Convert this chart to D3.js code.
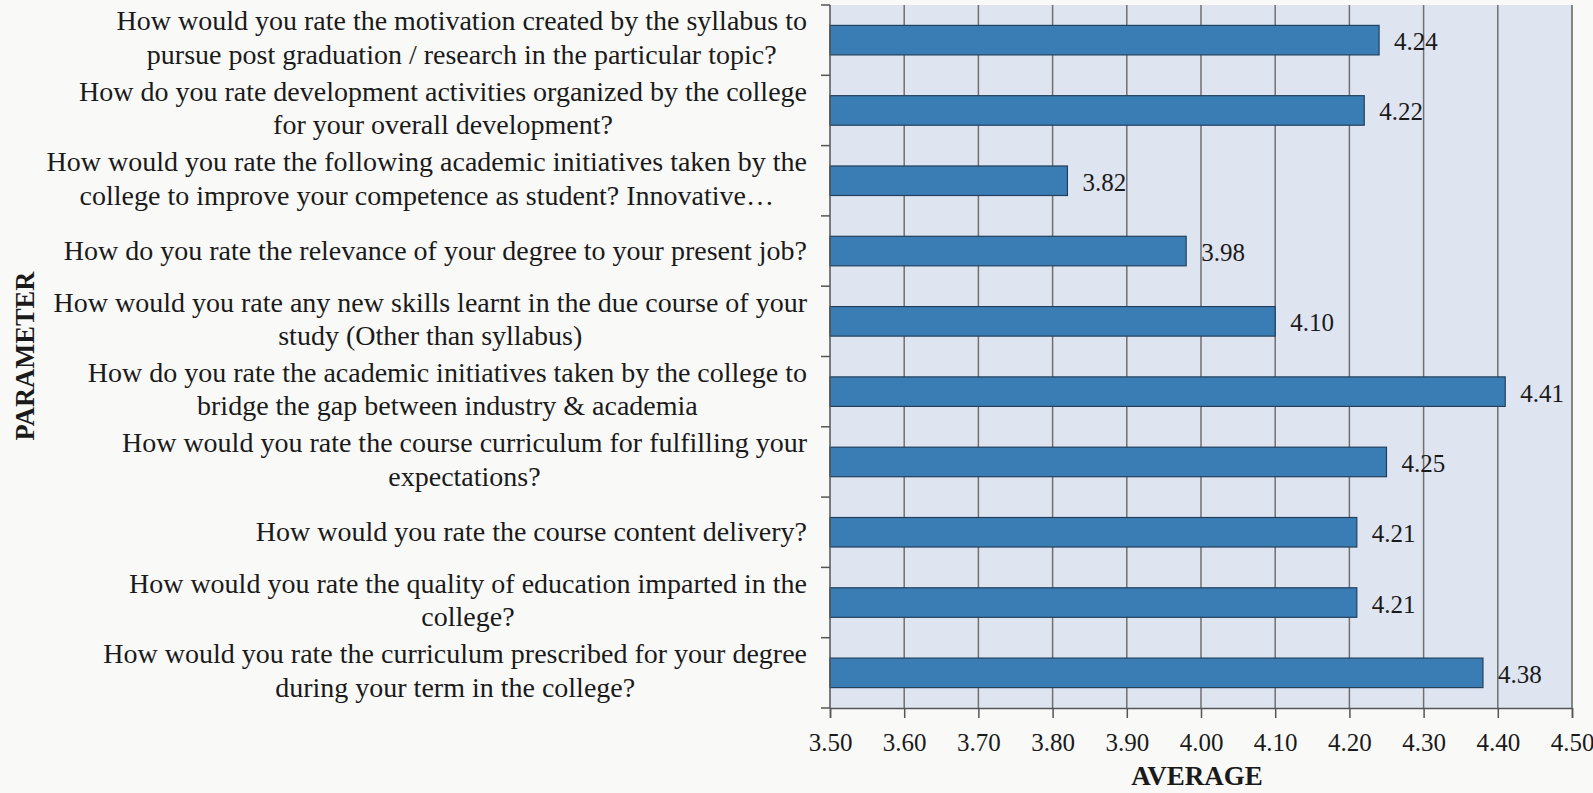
<!DOCTYPE html>
<html>
<head>
<meta charset="utf-8">
<script src="https://cdn.jsdelivr.net/npm/d3@7"></script>
<style>
  html, body { margin: 0; padding: 0; background: #f9f9f8; }
  svg { display: block; font-family: "Liberation Serif", "DejaVu Serif", serif; }
</style>
</head>
<body>
<svg id="chart" width="1593" height="793"></svg>
<script>
// questions, top to bottom ("\n" marks the line break)
const questions = [
  "How would you rate the motivation created by the syllabus to\npursue post graduation / research in the particular topic?",
  "How do you rate development activities organized by the college\nfor your overall development?",
  "How would you rate the following academic initiatives taken by the\ncollege to improve your competence as student? Innovative…",
  "How do you rate the relevance of your degree to your present job?",
  "How would you rate any new skills learnt in the due course of your\nstudy (Other than syllabus)",
  "How do you rate the academic initiatives taken by the college to\nbridge the gap between industry & academia",
  "How would you rate the course curriculum for fulfilling your\nexpectations?",
  "How would you rate the course content delivery?",
  "How would you rate the quality of education imparted in the\ncollege?",
  "How would you rate the curriculum prescribed for your degree\nduring your term in the college?"
];
const averages = [4.24, 4.22, 3.82, 3.98, 4.10, 4.41, 4.25, 4.21, 4.21, 4.38];
const xTicks = [3.5, 3.6, 3.7, 3.8, 3.9, 4.0, 4.1, 4.2, 4.3, 4.4, 4.5];

const svg = d3.select("#chart");
const plotLeft = 830, plotRight = 1572, plotTop = 5, plotBottom = 708;

const x = d3.scaleLinear().domain([3.5, 4.5]).range([plotLeft, plotRight]);
const y = d3.scaleBand().domain(d3.range(questions.length)).range([plotTop, plotBottom]).paddingInner(0.58).paddingOuter(0.29);

// plot area
svg.append("rect")
  .attr("x", plotLeft).attr("y", plotTop)
  .attr("width", plotRight - plotLeft).attr("height", plotBottom - plotTop)
  .attr("fill", "#dfe4f1");

// vertical gridlines
svg.append("g").selectAll("line")
  .data(xTicks.slice(1))
  .join("line")
  .attr("x1", d => x(d)).attr("x2", d => x(d))
  .attr("y1", plotTop).attr("y2", plotBottom)
  .attr("stroke", "#707070").attr("stroke-width", 1.5);

// bars
svg.append("g").selectAll("rect")
  .data(averages)
  .join("rect")
  .attr("x", plotLeft)
  .attr("y", (d, i) => y(i))
  .attr("width", d => x(d) - plotLeft)
  .attr("height", y.bandwidth())
  .attr("fill", "#3a7db5")
  .attr("stroke", "#22405c").attr("stroke-width", 1.2);

// value labels
svg.append("g").selectAll("text")
  .data(averages)
  .join("text")
  .attr("x", d => x(d) + 15)
  .attr("y", (d, i) => y(i) + y.bandwidth() / 2 + 10)
  .attr("font-size", 25)
  .attr("fill", "#1a1a1a")
  .text(d => d.toFixed(2));

// x axis
const xAxis = svg.append("g")
  .attr("transform", `translate(0,${plotBottom})`)
  .call(d3.axisBottom(x).tickValues(xTicks).tickFormat(d3.format(".2f")).tickSize(10).tickPadding(15));
xAxis.select(".domain").attr("stroke", "#555").attr("stroke-width", 1.5);
xAxis.selectAll(".tick line").attr("stroke", "#555").attr("stroke-width", 1.5);
xAxis.selectAll(".tick text")
  .attr("font-family", "Liberation Serif, serif")
  .attr("font-size", 25).attr("fill", "#1a1a1a");

// y axis: line with ticks at band boundaries
const step = y.step();
const bounds = d3.range(questions.length + 1).map(i => plotTop + i * step);
svg.append("line")
  .attr("x1", plotLeft).attr("x2", plotLeft).attr("y1", plotTop).attr("y2", plotBottom)
  .attr("stroke", "#555").attr("stroke-width", 1.5);
svg.append("g").selectAll("line")
  .data(bounds)
  .join("line")
  .attr("x1", plotLeft - 9).attr("x2", plotLeft)
  .attr("y1", d => d).attr("y2", d => d)
  .attr("stroke", "#555").attr("stroke-width", 1.5);

// right border
svg.append("line")
  .attr("x1", plotRight).attr("x2", plotRight).attr("y1", plotTop).attr("y2", plotBottom)
  .attr("stroke", "#808080").attr("stroke-width", 1.5);

// category labels: lines centred in a block that is right aligned
const labelRight = 807, lineH = 33.5;
const labels = svg.append("g")
  .attr("font-size", 28).attr("fill", "#1a1a1a");

questions.forEach((q, i) => {
  const lines = q.split("\n");
  const cy = y(i) + y.bandwidth() / 2 - (lines.length > 1 ? 2 : 0);
  const g = labels.append("g");
  const texts = g.selectAll("text")
    .data(lines)
    .join("text")
    .attr("text-anchor", "middle")
    .attr("y", (d, k) => cy + (k - (lines.length - 1) / 2) * lineH + 9)
    .text(d => d);
  let maxW = 0;
  texts.each(function () { maxW = Math.max(maxW, this.getComputedTextLength()); });
  texts.attr("x", labelRight - maxW / 2);
});

// axis titles
svg.append("text")
  .attr("x", (plotLeft + plotRight) / 2 - 4).attr("y", 785)
  .attr("text-anchor", "middle")
  .attr("font-size", 27).attr("font-weight", "bold").attr("fill", "#1a1a1a")
  .text("AVERAGE");

svg.append("text")
  .attr("transform", "translate(34,356) rotate(-90)")
  .attr("text-anchor", "middle")
  .attr("font-size", 26.5).attr("font-weight", "bold").attr("fill", "#1a1a1a")
  .text("PARAMETER");
</script>
</body>
</html>
